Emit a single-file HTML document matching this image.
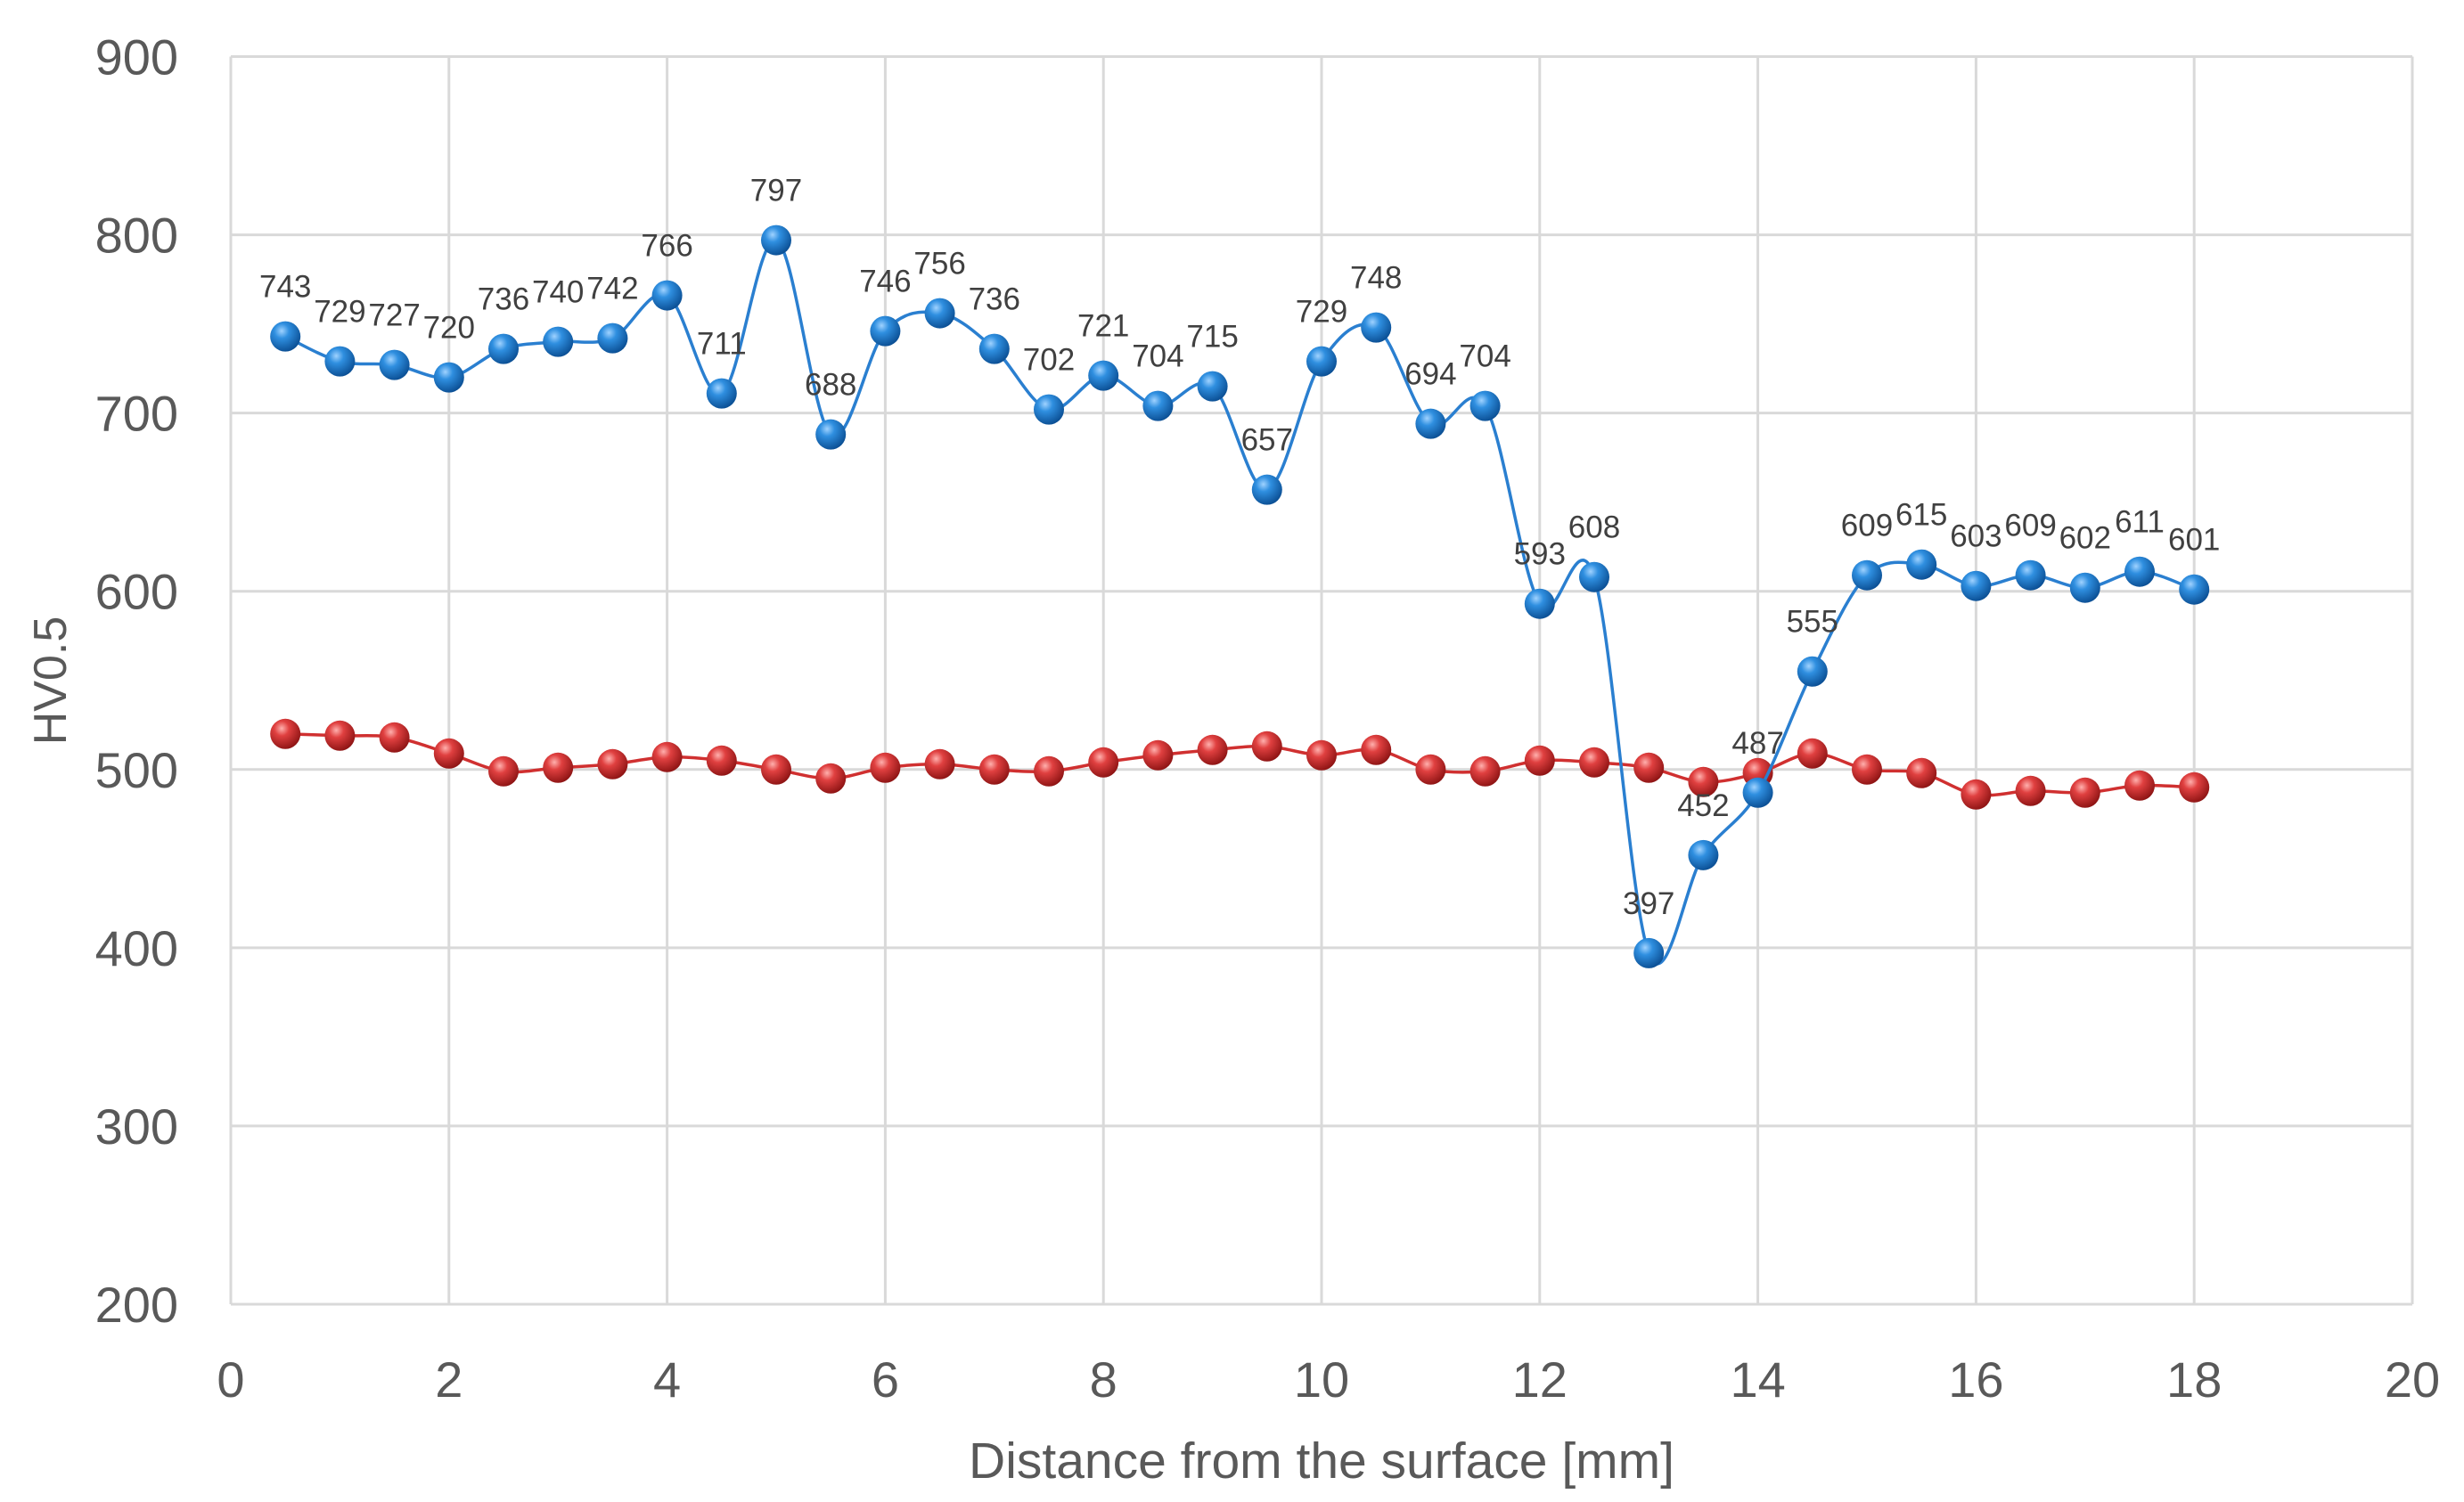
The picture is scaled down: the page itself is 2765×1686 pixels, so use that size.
<!DOCTYPE html>
<html><head><meta charset="utf-8"><style>
html,body{margin:0;padding:0;background:#fff;}
svg{display:block;font-family:"Liberation Sans",sans-serif;}
</style></head><body>
<svg id="chart" width="2765" height="1686" viewBox="0 0 2765 1686" xmlns="http://www.w3.org/2000/svg">
<defs>
<radialGradient id="gBlue" cx="0.38" cy="0.32" r="0.7">
<stop offset="0" stop-color="#9fd2ff"/><stop offset="0.35" stop-color="#2f8fe0"/><stop offset="1" stop-color="#0b4f94"/>
</radialGradient>
<radialGradient id="gRed" cx="0.38" cy="0.32" r="0.7">
<stop offset="0" stop-color="#ffb0ad"/><stop offset="0.35" stop-color="#e04040"/><stop offset="1" stop-color="#8e1414"/>
</radialGradient>
</defs>
<g id="grid"></g>
<g id="axes"></g>
<g id="series"></g>
<text x="1483" y="1659" text-anchor="middle" font-size="57" fill="#595959">Distance from the surface [mm]</text>
<text transform="translate(74,764) rotate(-90)" text-anchor="middle" font-size="52" fill="#595959">HV0.5</text>
</svg>
<script>
const xValues = [0.5,1,1.5,2,2.5,3,3.5,4,4.5,5,5.5,6,6.5,7,7.5,8,8.5,9,9.5,10,10.5,11,11.5,12,12.5,13,13.5,14,14.5,15,15.5,16,16.5,17,17.5,18];
const blueValues = [743,729,727,720,736,740,742,766,711,797,688,746,756,736,702,721,704,715,657,729,748,694,704,593,608,397,452,487,555,609,615,603,609,602,611,601];
const redValues = [520,519,518,509,499,501,503,507,505,500,495,501,503,500,499,504,508,511,513,508,511,500,499,505,504,501,493,498,509,500,498,486,488,487,491,490];
const xTicks = [0,2,4,6,8,10,12,14,16,18,20];
const yTicks = [200,300,400,500,600,700,800,900];

const L=259,R=2707,T=63.5,B=1464;
const xs=v=>L+(v-0)/(20-0)*(R-L);
const ys=v=>B-(v-200)/(900-200)*(B-T);
const NS='http://www.w3.org/2000/svg';
function mk(tag,attrs,parent){const e=document.createElementNS(NS,tag);for(const k in attrs)e.setAttribute(k,attrs[k]);parent.appendChild(e);return e;}
const grid=document.getElementById('grid'),axes=document.getElementById('axes'),series=document.getElementById('series');

yTicks.forEach(t=>{
  const l=mk('line',{x1:L,x2:R,y1:ys(t),y2:ys(t),stroke:'#d9d9d9','stroke-width':3},grid);
  
  
  const tx=mk('text',{x:200,y:ys(t)+20,'text-anchor':'end','font-size':56,fill:'#595959'},axes);
  tx.textContent=t;
  
  
});
xTicks.forEach(t=>{
  const l=mk('line',{x1:xs(t),x2:xs(t),y1:T,y2:B,stroke:'#d9d9d9','stroke-width':3},grid);
  
  
  const tx=mk('text',{x:xs(t),y:1568,'text-anchor':'middle','font-size':56,fill:'#595959'},axes);
  tx.textContent=t;
  
  
});

function smoothPath(pts){
  let d='M'+pts[0][0]+','+pts[0][1];
  for(let i=0;i<pts.length-1;i++){
    const p0=pts[Math.max(0,i-1)],p1=pts[i],p2=pts[i+1],p3=pts[Math.min(pts.length-1,i+2)];
    const k=1/6;
    const c1=[p1[0]+(p2[0]-p0[0])*k,p1[1]+(p2[1]-p0[1])*k];
    const c2=[p2[0]-(p3[0]-p1[0])*k,p2[1]-(p3[1]-p1[1])*k];
    d+=' C'+c1[0]+','+c1[1]+' '+c2[0]+','+c2[1]+' '+p2[0]+','+p2[1];
  }
  return d;
}
function drawSeries(vals,color,grad,name,labels){
  const pts=xValues.map((x,i)=>[xs(x),ys(vals[i])]);
  const p=mk('path',{d:smoothPath(pts),fill:'none',stroke:color,'stroke-width':3.5},series);
  
  
  pts.forEach((pt,i)=>{
    const c=mk('circle',{cx:pt[0],cy:pt[1],r:17,fill:'url(#'+grad+')'},series);
    
    
  });
  if(labels){
    pts.forEach((pt,i)=>{
      const t=mk('text',{x:pt[0],y:pt[1]-44,'text-anchor':'middle','font-size':35,fill:'#404040'},series);
      t.textContent=vals[i];
      
      
    });
  }
}
drawSeries(redValues,'#d03030','gRed','red-series',false);
drawSeries(blueValues,'#2a7fd0','gBlue','blue-series',true);
</script>
</body></html>
